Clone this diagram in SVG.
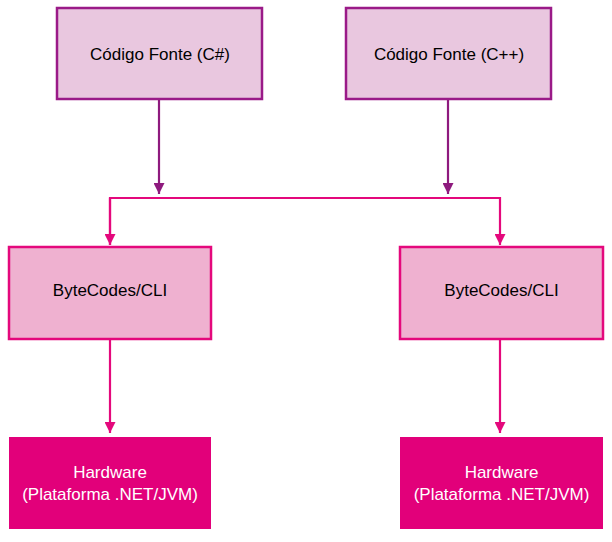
<svg xmlns="http://www.w3.org/2000/svg" width="612" height="542" viewBox="0 0 612 542">
<defs>
<style>
text{font-family:"Liberation Sans",Arial,sans-serif;font-size:17px;text-anchor:middle}
.src{fill:#e9c7df;stroke:#9a1a88;stroke-width:2.5}
.bc{fill:#efb1d0;stroke:#e4087c;stroke-width:2.5}
.hw{fill:#e2007a}
.lp{stroke:#8e1a7e;stroke-width:2.2;fill:none}
.lm{stroke:#e4087c;stroke-width:2.2;fill:none}
</style>
<marker id="ap" viewBox="0 0 10 10" refX="10" refY="5" markerWidth="5" markerHeight="5" markerUnits="strokeWidth" orient="auto"><path d="M0,0L10,5L0,10z" fill="#8e1a7e"/></marker>
<marker id="am" viewBox="0 0 10 10" refX="10" refY="5" markerWidth="5" markerHeight="5" markerUnits="strokeWidth" orient="auto"><path d="M0,0L10,5L0,10z" fill="#e4087c"/></marker>
</defs>
<g id="connectors">
<path class="lp" d="M159,99V194" marker-end="url(#ap)"/>
<path class="lp" d="M448,99V194" marker-end="url(#ap)"/>
<path class="lm" d="M110,245V198H500V245" marker-end="url(#am)"/>
<path class="lm" d="M110,198V245" marker-end="url(#am)"/>
<path class="lm" d="M110,339V433" marker-end="url(#am)"/>
<path class="lm" d="M500,339V433" marker-end="url(#am)"/>
</g>
<g id="src1"><rect class="src" x="57" y="8" width="205" height="91"/><text x="160" y="60" fill="#000">Código Fonte (C#)</text></g>
<g id="src2"><rect class="src" x="346" y="8" width="205" height="91"/><text x="449" y="60" fill="#000">Código Fonte (C++)</text></g>
<g id="bc1"><rect class="bc" x="9" y="247" width="202" height="92"/><text x="110" y="296" fill="#000">ByteCodes/CLI</text></g>
<g id="bc2"><rect class="bc" x="400" y="247" width="203" height="92"/><text x="501.5" y="296" fill="#000">ByteCodes/CLI</text></g>
<g id="hw1"><rect class="hw" x="9" y="437" width="202" height="92"/><text x="110" y="478" fill="#fff">Hardware</text><text x="110" y="500" fill="#fff">(Plataforma .NET/JVM)</text></g>
<g id="hw2"><rect class="hw" x="400" y="437" width="203" height="92"/><text x="501.5" y="478" fill="#fff">Hardware</text><text x="501.5" y="500" fill="#fff">(Plataforma .NET/JVM)</text></g>
</svg>
